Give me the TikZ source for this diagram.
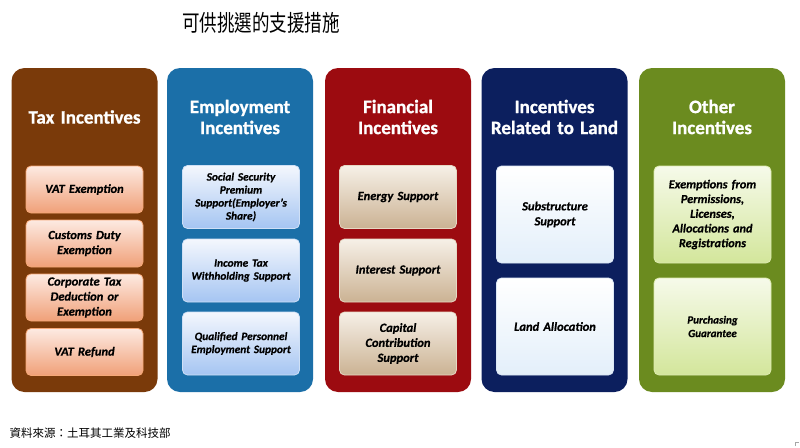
\documentclass[tikz,border=0pt]{standalone}
\usepackage{fontspec}
\setmainfont{Carlito}
\newfontfamily\hfont{Carlito Bold}[FakeBold=1]
\newfontfamily\ifont{Carlito Bold Italic}[FakeBold=0.6]
\newfontfamily\cjk{Noto Sans CJK TC}
\definecolor{cBrown}{HTML}{7A3A0A}
\definecolor{cBlue}{HTML}{1B6FA8}
\definecolor{cRed}{HTML}{9C0B10}
\definecolor{cNavy}{HTML}{0C1F5E}
\definecolor{cGreen}{HTML}{6B8B1F}
\definecolor{taxT}{HTML}{FDEAE2}
\definecolor{taxB}{HTML}{F0A078}
\definecolor{taxD}{HTML}{F6A877}
\definecolor{empT}{HTML}{F4F7FD}
\definecolor{empB}{HTML}{A5C5F2}
\definecolor{empD}{HTML}{CFE0F6}
\definecolor{finT}{HTML}{F6F0E7}
\definecolor{finB}{HTML}{CBB293}
\definecolor{finD}{HTML}{E6D8C4}
\definecolor{landT}{HTML}{FFFFFF}
\definecolor{landB}{HTML}{E3EFFA}
\definecolor{landD}{HTML}{DCE8F6}
\definecolor{othT}{HTML}{F6FAEA}
\definecolor{othB}{HTML}{D3E69B}
\definecolor{othD}{HTML}{DDEBB0}
\begin{document}
\begin{tikzpicture}[x=1pt,y=-1pt,
  outer/.style={rounded corners=13pt, minimum width=146pt, minimum height=324pt, inner sep=0pt, draw=none},
  head/.style={text=white, font=\hfont\fontsize{19}{21}\selectfont, align=center, text width=146pt},
  item/.style={rounded corners=5pt, minimum width=117pt, inner sep=1pt, text width=115pt, align=center,
     font=\ifont\fontsize{12.5}{15}\selectfont, text=black, line width=0.8pt},
  small/.style={font=\ifont\fontsize{11.3}{13}\selectfont},
  taxbox/.style={item, top color=taxT, bottom color=taxB, draw=taxD},
  empbox/.style={item, small, top color=empT, bottom color=empB, draw=empD},
  finbox/.style={item, top color=finT, bottom color=finB, draw=finD},
  landbox/.style={item, top color=landT, bottom color=landB, draw=landD},
  othbox/.style={item, top color=othT, bottom color=othB, draw=othD}
]
\useasboundingbox (0,0) rectangle (800,447);
\fill[white] (0,0) rectangle (800,447);
\node[font=\cjk\fontsize{17.5}{20}\selectfont, yscale=1.3] (title) at (261,23) {可供挑選的支援措施};
\node[font=\cjk\fontsize{11.5}{13}\selectfont, anchor=west] (src) at (6,433) {資料來源：土耳其工業及科技部};
% outer columns
\node[outer, fill=cBrown] (c1) at (84.5,230) {};
\node[outer, fill=cBlue]  (c2) at (240,230) {};
\node[outer, fill=cRed]   (c3) at (398,230) {};
\node[outer, fill=cNavy]  (c4) at (554.5,230) {};
\node[outer, fill=cGreen] (c5) at (712,230) {};
% headings
\node[head] (h1) at (84.5,117) {Tax Incentives};
\node[head] (h2) at (240,117) {Employment\\Incentives};
\node[head] (h3) at (398,117) {Financial\\Incentives};
\node[head] (h4) at (554.5,117) {Incentives\\Related to Land};
\node[head] (h5) at (712,117) {Other\\Incentives};
% tax
\node[taxbox, minimum height=47pt] (t1) at (84.5,189.5) {VAT Exemption};
\node[taxbox, minimum height=47pt] (t2) at (84.5,243.5) {Customs Duty\\Exemption};
\node[taxbox, minimum height=47pt] (t3) at (84.5,297.5) {Corporate Tax\\Deduction or\\Exemption};
\node[taxbox, minimum height=47pt] (t4) at (84.5,352) {VAT Refund};
% employment
\node[empbox, minimum height=63pt] (e1) at (241,197) {Social Security\\Premium\\Support(Employer’s\\Share)};
\node[empbox, minimum height=63pt] (e2) at (241,270.5) {Income Tax\\Withholding Support};
\node[empbox, minimum height=63pt] (e3) at (241,343.5) {Qualified Personnel\\Employment Support};
% financial
\node[finbox, minimum height=63pt] (f1) at (398,197) {Energy Support};
\node[finbox, minimum height=63pt] (f2) at (398,270.5) {Interest Support};
\node[finbox, minimum height=63pt] (f3) at (398,343.5) {Capital\\Contribution\\Support};
% land
\node[landbox, minimum height=97pt] (l1) at (555,214.5) {Substructure\\Support};
\node[landbox, minimum height=97pt] (l2) at (555,326.5) {Land Allocation};
% other
\node[othbox, minimum height=97pt, font=\ifont\fontsize{12.3}{14.7}\selectfont] (o1) at (712.5,214.5) {Exemptions from\\Permissions,\\Licenses,\\Allocations and\\Registrations};
\node[othbox, minimum height=97pt, font=\ifont\fontsize{11}{13.5}\selectfont] (o2) at (712.5,326.5) {Purchasing\\Guarantee};
% corner mark
\coordinate (m1) at (795,446);
\coordinate (m2) at (795,442);
\coordinate (m3) at (799,442);
\draw[gray!70, line width=0.6pt] (m1) -- (m2) -- (m3);
\end{tikzpicture}
\end{document}
